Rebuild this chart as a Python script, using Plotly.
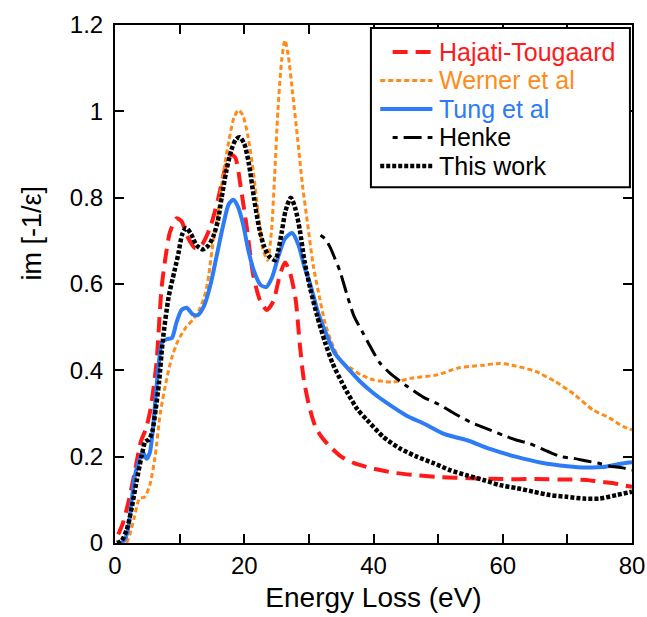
import plotly.graph_objects as go

# ---------------- data ----------------
ht_x = [0.5, 1.2, 2.0, 3.0, 4.0, 4.8, 5.5, 6.4, 7.2, 7.8, 8.5, 9.5, 10.3, 11.2, 12.4, 13.4,
        14.7, 16.0, 17.0, 17.9, 18.6, 19.5, 20.4, 21.4, 22.5, 23.5, 24.5, 25.5, 26.3, 27.0,
        27.9, 28.6, 29.2, 30.0, 31.0, 32.0, 33.5, 35.0, 37.0, 39.0, 41.0, 43.0, 46.0, 50.0,
        55.0, 60.0, 65.0, 70.0, 73.0, 75.0, 77.0, 78.6, 80.0]
ht_y = [0.02, 0.045, 0.09, 0.16, 0.235, 0.265, 0.31, 0.415, 0.59, 0.66, 0.72, 0.752, 0.745,
        0.71, 0.683, 0.69, 0.73, 0.8, 0.865, 0.9, 0.893, 0.82, 0.73, 0.62, 0.56, 0.54, 0.56,
        0.62, 0.65, 0.63, 0.57, 0.46, 0.38, 0.32, 0.27, 0.245, 0.22, 0.2, 0.185, 0.176, 0.169,
        0.163, 0.158, 0.153, 0.15, 0.148, 0.148, 0.147, 0.146, 0.142, 0.139, 0.134, 0.13]

we_x = [1.8, 2.3, 3.0, 3.8, 4.6, 5.4, 6.2, 7.0, 8.0, 8.8, 9.8, 11.0, 12.2, 13.2, 14.0, 14.5,
        15.2, 15.8, 16.7, 17.6, 18.4, 19.1, 19.8, 20.6, 21.4, 22.2, 22.9, 23.6, 24.2, 24.7,
        25.2, 25.8, 26.3, 26.8, 27.5, 28.3, 29.0, 29.8, 30.7, 31.5, 32.5, 33.5, 35.0, 36.5,
        38.0, 40.0, 43.0, 46.0, 50.0, 53.0, 57.0, 59.6, 62.0, 65.0, 68.0, 71.0, 74.0, 76.5,
        78.6, 80.0]
we_y = [0.0, 0.02, 0.06, 0.103, 0.107, 0.135, 0.2, 0.3, 0.38, 0.43, 0.47, 0.5, 0.52, 0.545,
        0.58, 0.62, 0.7, 0.75, 0.85, 0.93, 0.985, 1.003, 0.99, 0.94, 0.86, 0.76, 0.68, 0.655,
        0.72, 0.85, 1.0, 1.12, 1.165, 1.13, 1.04, 0.93, 0.83, 0.74, 0.64, 0.58, 0.51, 0.465,
        0.42, 0.405, 0.39, 0.378, 0.373, 0.382, 0.39, 0.405, 0.412, 0.416, 0.41, 0.398, 0.375,
        0.345, 0.308, 0.29, 0.27, 0.262]

tu_x = [1.0, 1.6, 2.1, 2.6, 3.0, 3.6, 4.3, 4.9, 5.4, 5.9, 6.3, 6.8, 7.3, 8.0, 8.8, 9.5, 10.3,
        11.1, 12.0, 12.8, 13.8, 14.8, 15.8, 16.8, 17.6, 18.3, 19.0, 19.8, 20.6, 21.5, 22.5,
        23.4, 24.3, 25.3, 26.3, 27.4, 28.4, 29.3, 30.2, 31.5, 32.8, 34.0, 36.0, 38.0, 40.0,
        42.0, 45.0, 48.0, 51.0, 54.5, 58.0, 62.0, 66.0, 70.0, 73.0, 75.5, 78.0, 80.0]
tu_y = [0.0, 0.01, 0.04, 0.1, 0.15, 0.185, 0.21, 0.195, 0.21, 0.27, 0.34, 0.42, 0.465, 0.472,
        0.475, 0.51, 0.54, 0.545, 0.53, 0.528, 0.55, 0.6, 0.67, 0.74, 0.785, 0.795, 0.78, 0.74,
        0.68, 0.63, 0.598, 0.593, 0.615, 0.665, 0.705, 0.718, 0.69, 0.64, 0.6, 0.53, 0.48,
        0.44, 0.405, 0.373, 0.347, 0.325, 0.296, 0.275, 0.252, 0.238, 0.218, 0.2, 0.186, 0.178,
        0.175, 0.176, 0.183, 0.187]

he_x = [31.8, 32.5, 33.3, 34.0, 34.8, 36.0, 37.0, 38.4, 39.5, 41.0, 42.5, 45.0, 47.7, 50.0,
        52.5, 55.0, 57.0, 60.0, 62.2, 64.2, 67.0, 69.0, 71.0, 73.0, 75.0, 76.6, 78.6, 80.0]
he_y = [0.713, 0.705, 0.685, 0.66, 0.63, 0.57, 0.525, 0.486, 0.455, 0.417, 0.394, 0.365,
        0.338, 0.322, 0.3, 0.28, 0.268, 0.25, 0.238, 0.23, 0.212, 0.2, 0.196, 0.19, 0.184,
        0.178, 0.174, 0.169]

tw_x = [0.3, 1.0, 1.8, 2.5, 3.3, 4.1, 4.7, 5.3, 5.8, 6.3, 6.8, 7.4, 8.3, 9.2, 9.8, 10.4, 11.0,
        11.8, 12.6, 13.6, 14.5, 15.2, 15.9, 16.5, 17.2, 18.0, 18.7, 19.3, 20.0, 20.7, 21.5,
        22.3, 23.0, 23.8, 24.8, 25.3, 25.8, 26.4, 27.2, 27.9, 28.6, 29.3, 30.2, 31.3, 32.5,
        33.7, 35.0, 36.0, 37.5, 39.0, 41.5, 44.1, 46.7, 49.3, 51.8, 54.4, 57.0, 59.6, 62.2,
        64.7, 67.3, 69.9, 72.5, 75.0, 77.6, 80.0]
tw_y = [0.0, 0.005, 0.03, 0.075, 0.14, 0.2, 0.235, 0.24, 0.26, 0.31, 0.37, 0.47, 0.57, 0.63,
        0.67, 0.715, 0.73, 0.715, 0.69, 0.68, 0.69, 0.71, 0.745, 0.8, 0.86, 0.91, 0.935, 0.94,
        0.925, 0.88, 0.8, 0.73, 0.69, 0.665, 0.655, 0.68, 0.72, 0.77, 0.8, 0.775, 0.725,
        0.655, 0.59, 0.525, 0.465, 0.415, 0.375, 0.347, 0.31, 0.285, 0.246, 0.219, 0.2,
        0.185, 0.169, 0.157, 0.146, 0.134, 0.127, 0.119, 0.111, 0.107, 0.103, 0.103, 0.111,
        0.119]

names = ["Hajati-Tougaard", "Werner et al", "Tung et al", "Henke", "This work"]
x_ticks = [0, 10, 20, 30, 40, 50, 60, 70, 80]
x_labels = ["0", "", "20", "", "40", "", "60", "", "80"]
y_ticks = [0, 0.2, 0.4, 0.6, 0.8, 1.0, 1.2]
y_labels = ["0", "0.2", "0.4", "0.6", "0.8", "1", "1.2"]

# ---------------- styles ----------------
RED = "#ff1a1a"
ORANGE = "#ff8c1a"
BLUE = "#2d7cf6"
BLACK = "#000000"
FONT = "Liberation Sans, Arial, Helvetica, sans-serif"

series = [
    (ht_x, ht_y, names[0], RED, 4.0, "15px,8px"),
    (we_x, we_y, names[1], ORANGE, 3.0, "5px,3px"),
    (tu_x, tu_y, names[2], BLUE, 4.0, "solid"),
    (he_x, he_y, names[3], BLACK, 3.0, "5px,6px,18px,6px"),
    (tw_x, tw_y, names[4], BLACK, 4.5, "4px,2px"),
]

fig = go.Figure()
for xs, ys, nm, col, w, dash in series:
    fig.add_trace(go.Scatter(
        x=xs, y=ys, mode="lines", name=nm, showlegend=False,
        line=dict(color=col, width=w, dash=dash, shape="spline", smoothing=0.7),
    ))

# ---------------- boxed legend (layout positions in paper units) ----------------
leg_x0, leg_x1, leg_y0, leg_y1 = 0.495, 0.996, 0.687, 0.994
row_y = [0.948, 0.893, 0.838, 0.783, 0.728]
sample_x0 = [0.537, 0.513, 0.513, 0.537, 0.513]
sample_x1 = 0.614
text_x = 0.622

shapes = [dict(type="rect", xref="paper", yref="paper",
               x0=leg_x0, x1=leg_x1, y0=leg_y0, y1=leg_y1,
               line=dict(color="black", width=2), fillcolor="white", layer="above")]
annotations = []
for (xs, ys, nm, col, w, dash), ry, sx0 in zip(series, row_y, sample_x0):
    shapes.append(dict(type="line", xref="paper", yref="paper",
                       x0=sx0, x1=sample_x1, y0=ry, y1=ry, layer="above",
                       line=dict(color=col, width=w, dash=dash)))
    annotations.append(dict(text=nm, xref="paper", yref="paper", x=text_x, y=ry,
                            xanchor="left", yanchor="middle", showarrow=False,
                            font=dict(family=FONT, size=25, color=col)))

annotations.append(dict(
    text="im [-1/ε]", textangle=-90, showarrow=False,
    xref="paper", yref="paper", x=-0.16, y=0.598,
    xanchor="center", yanchor="middle",
    font=dict(family=FONT, size=27, color="black"),
))

fig.update_layout(
    width=647, height=617,
    margin=dict(l=115, r=15, t=25, b=74, autoexpand=False),
    paper_bgcolor="white", plot_bgcolor="white",
    font=dict(family=FONT, size=24, color="black"),
    showlegend=False,
    shapes=shapes,
    annotations=annotations,
    xaxis=dict(
        range=[0, 80], tickmode="array", tickvals=x_ticks, ticktext=x_labels,
        ticks="inside", ticklen=9, tickwidth=1.5, tickcolor="black",
        showline=True, linewidth=2, linecolor="black", mirror="ticks",
        showgrid=False, zeroline=False, automargin=False,
        tickfont=dict(family=FONT, size=24),
        title=dict(text="Energy Loss (eV)", font=dict(family=FONT, size=28), standoff=10),
    ),
    yaxis=dict(
        range=[0, 1.2], tickmode="array", tickvals=y_ticks, ticktext=y_labels,
        ticks="inside", ticklen=9, tickwidth=1.5, tickcolor="black",
        showline=True, linewidth=2, linecolor="black", mirror="ticks",
        showgrid=False, zeroline=False, automargin=False,
        tickfont=dict(family=FONT, size=24),
        ticklabelstandoff=5,
    ),
)

fig.write_html("out.html")
